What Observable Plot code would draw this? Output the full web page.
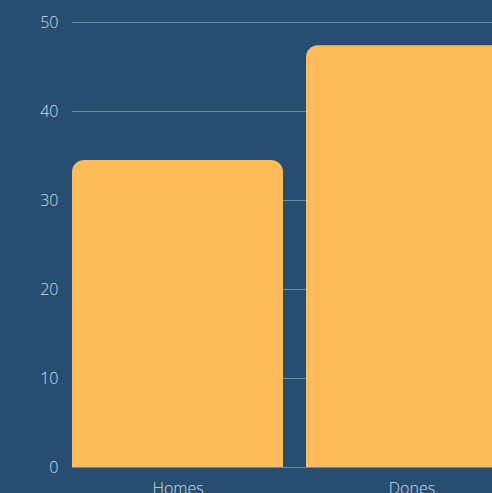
<!DOCTYPE html>
<html><head><meta charset="utf-8">
<script src="https://cdn.jsdelivr.net/npm/d3@7"></script>
<script src="https://cdn.jsdelivr.net/npm/@observablehq/plot@0.6"></script>
<style>
html,body{margin:0;padding:0;background:#274e71;overflow:hidden;width:492px;height:493px;}
svg{display:block;max-width:none !important;}
</style></head>
<body><div id="chart"></div>
<script>
const categories = ["Homes", "Dones"];
const values = [34.5, 47.4];
const yTicks = [0, 10, 20, 30, 40, 50];
const data = categories.map((c, i) => ({category: c, value: values[i]}));

const chart = Plot.plot({
  width: 517,
  height: 515,
  marginLeft: 72,
  marginRight: 0,
  marginTop: 22,
  marginBottom: 48,
  style: {background: "#274e71", color: "#d4dde6", fontFamily: "'Open Sans', sans-serif", fontSize: "16px", fontWeight: 300, overflow: "visible", maxWidth: "none"},
  x: {domain: categories, padding: 0.1, paddingOuter: 0, label: null},
  y: {domain: [0, 50], ticks: yTicks, label: null},
  marks: [
    Plot.gridY(yTicks, {stroke: "#6d8aa6", strokeOpacity: 1, strokeWidth: 1}),
    Plot.axisY(yTicks, {tickSize: 0, tickPadding: 14, label: null, fontSize: 16}),
    Plot.axisX({tickSize: 0, tickPadding: 15, label: null, fontSize: 16}),
    Plot.barY(data, {x: "category", y: "value", fill: "#ffbc5a", ry1: 12})
  ]
});
document.getElementById("chart").appendChild(chart);
</script></body></html>
